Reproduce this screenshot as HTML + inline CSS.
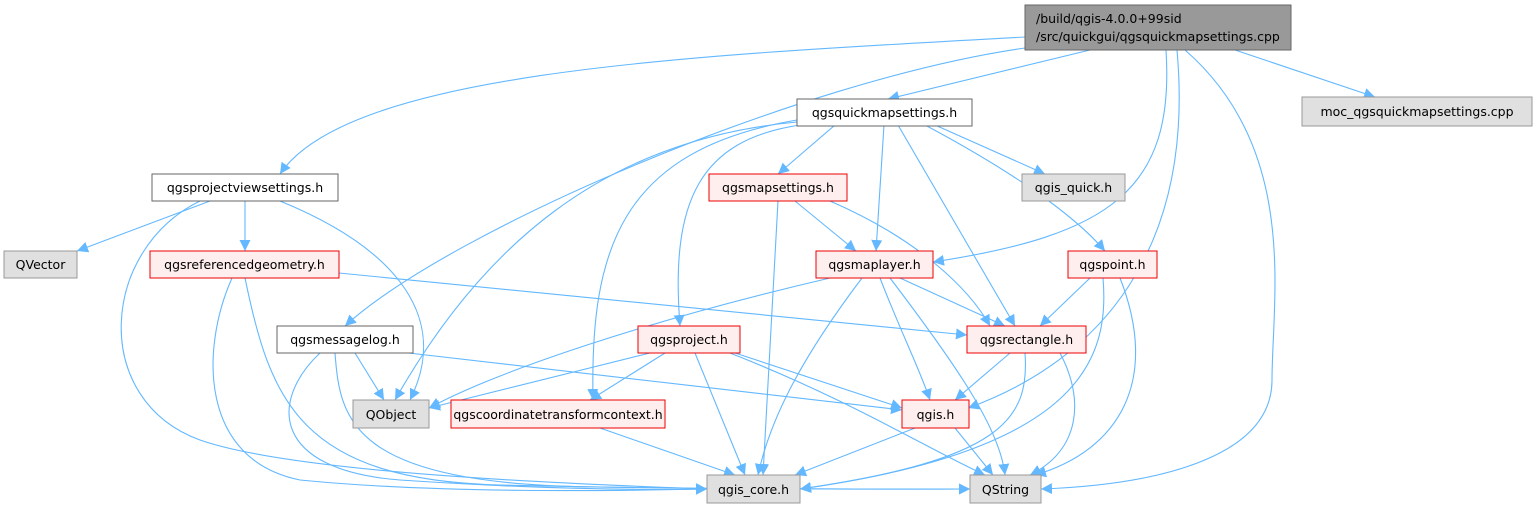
<!DOCTYPE html>
<html><head><meta charset="utf-8"><style>
html,body{margin:0;padding:0;background:#fff;}
svg{display:block;}
text{font-family:"DejaVu Sans","Liberation Sans",sans-serif;font-size:12.5px;fill:#000;}
.e{fill:none;stroke:#63b8ff;stroke-width:1.1;}
</style></head><body>
<svg width="1539" height="509" viewBox="0 0 1539 509" xmlns="http://www.w3.org/2000/svg">
<defs><marker id="a" viewBox="0 0 10 10" refX="10" refY="5" markerWidth="11" markerHeight="11" markerUnits="userSpaceOnUse" orient="auto"><path d="M0,0 L10,5 L0,10 z" fill="#63b8ff"/></marker></defs>
<g marker-end="url(#a)">
<path class="e" d="M1025,37 C700,55 350,70 280,174"/>
<path class="e" d="M1025,48 C800,80 450,230 345,326"/>
<path class="e" d="M1090,50 L888,99"/>
<path class="e" d="M1235,50 L1375,97"/>
<path class="e" d="M1166,50 C1175,190 1110,235 933,262"/>
<path class="e" d="M1177,50 C1195,250 1100,360 968,408"/>
<path class="e" d="M1185,50 C1300,150 1272,300 1272,380 C1272,460 1150,485 1041,489"/>
<path class="e" d="M835,125 L778,174"/>
<path class="e" d="M935,125 L1045,174"/>
<path class="e" d="M884,125 L876,251"/>
<path class="e" d="M925,125 C1000,165 1070,210 1105,251"/>
<path class="e" d="M898,125 L1015,326"/>
<path class="e" d="M800,125 C700,140 670,200 680,326"/>
<path class="e" d="M797,120 C620,150 590,250 593,400"/>
<path class="e" d="M797,122 C600,140 480,250 395,400"/>
<path class="e" d="M210,201 L77,251"/>
<path class="e" d="M245,201 L245,251"/>
<path class="e" d="M280,201 C400,250 450,320 410,400"/>
<path class="e" d="M200,201 C100,250 90,400 200,440 C300,475 600,485 707,489"/>
<path class="e" d="M795,201 L856,251"/>
<path class="e" d="M830,201 C920,240 970,290 990,326"/>
<path class="e" d="M778,201 L763,475"/>
<path class="e" d="M339,273 L967,335"/>
<path class="e" d="M232,278 C200,350 200,460 300,480 C450,495 650,490 707,489"/>
<path class="e" d="M245,278 C270,400 300,480 500,485 C700,490 900,489 970,489"/>
<path class="e" d="M830,278 C650,320 500,370 429,408"/>
<path class="e" d="M862,278 C800,360 770,420 758,475"/>
<path class="e" d="M900,278 L1005,326"/>
<path class="e" d="M880,278 C900,330 920,370 930,400"/>
<path class="e" d="M890,278 C960,370 1000,430 1005,475"/>
<path class="e" d="M1090,278 L1040,326"/>
<path class="e" d="M1103,278 C1110,360 1080,450 800,489"/>
<path class="e" d="M1120,278 C1160,380 1120,450 1035,475"/>
<path class="e" d="M355,353 L384,400"/>
<path class="e" d="M400,352 L902,410"/>
<path class="e" d="M320,353 C270,400 270,470 400,480 C550,490 650,490 707,489"/>
<path class="e" d="M335,353 C340,420 350,485 600,487 C800,490 920,489 970,489"/>
<path class="e" d="M650,353 L429,408"/>
<path class="e" d="M665,353 L590,400"/>
<path class="e" d="M735,353 L902,408"/>
<path class="e" d="M695,353 L745,475"/>
<path class="e" d="M730,353 C850,400 930,450 985,475"/>
<path class="e" d="M1010,353 L955,400"/>
<path class="e" d="M1025,353 C1030,420 1000,460 800,489"/>
<path class="e" d="M1060,353 C1085,400 1080,450 1030,475"/>
<path class="e" d="M600,428 L735,475"/>
<path class="e" d="M915,428 L795,475"/>
<path class="e" d="M955,428 L993,475"/>
</g>
<g stroke-width="1">
<rect x="1025" y="5" width="266" height="45" fill="#999" stroke="#666"/>
<rect x="1302" y="97" width="230" height="29" fill="#e0e0e0" stroke="#999"/>
<rect x="797" y="99" width="175" height="27" fill="#fff" stroke="#666"/>
<rect x="152" y="174" width="186" height="27" fill="#fff" stroke="#666"/>
<rect x="709" y="174" width="138" height="27" fill="#fee" stroke="#e00"/>
<rect x="1022" y="174" width="103" height="27" fill="#e0e0e0" stroke="#999"/>
<rect x="4" y="251" width="73" height="27" fill="#e0e0e0" stroke="#999"/>
<rect x="150" y="251" width="189" height="27" fill="#fee" stroke="#e00"/>
<rect x="816" y="251" width="117" height="27" fill="#fee" stroke="#e00"/>
<rect x="1068" y="251" width="89" height="27" fill="#fee" stroke="#e00"/>
<rect x="277" y="326" width="136" height="27" fill="#fff" stroke="#666"/>
<rect x="638" y="326" width="102" height="27" fill="#fee" stroke="#e00"/>
<rect x="967" y="326" width="119" height="27" fill="#fee" stroke="#e00"/>
<rect x="353" y="400" width="76" height="28" fill="#e0e0e0" stroke="#999"/>
<rect x="451" y="400" width="214" height="28" fill="#fee" stroke="#e00"/>
<rect x="902" y="400" width="67" height="28" fill="#fee" stroke="#e00"/>
<rect x="707" y="475" width="93" height="28" fill="#e0e0e0" stroke="#999"/>
<rect x="970" y="475" width="71" height="28" fill="#e0e0e0" stroke="#999"/>
</g>
<g>
<text x="1036" y="23">/build/qgis-4.0.0+99sid</text>
<text x="1036" y="41">/src/quickgui/qgsquickmapsettings.cpp</text>
<text x="1417" y="116" text-anchor="middle">moc_qgsquickmapsettings.cpp</text>
<text x="884.5" y="117" text-anchor="middle">qgsquickmapsettings.h</text>
<text x="245" y="192" text-anchor="middle">qgsprojectviewsettings.h</text>
<text x="778" y="192" text-anchor="middle">qgsmapsettings.h</text>
<text x="1073.5" y="192" text-anchor="middle">qgis_quick.h</text>
<text x="40.5" y="269" text-anchor="middle">QVector</text>
<text x="244.5" y="269" text-anchor="middle">qgsreferencedgeometry.h</text>
<text x="874.5" y="269" text-anchor="middle">qgsmaplayer.h</text>
<text x="1112.5" y="269" text-anchor="middle">qgspoint.h</text>
<text x="345" y="344" text-anchor="middle">qgsmessagelog.h</text>
<text x="689" y="344" text-anchor="middle">qgsproject.h</text>
<text x="1026.5" y="344" text-anchor="middle">qgsrectangle.h</text>
<text x="391" y="419" text-anchor="middle">QObject</text>
<text x="558" y="419" text-anchor="middle">qgscoordinatetransformcontext.h</text>
<text x="935.5" y="419" text-anchor="middle">qgis.h</text>
<text x="753.5" y="494" text-anchor="middle">qgis_core.h</text>
<text x="1005.5" y="494" text-anchor="middle">QString</text>
</g>
</svg>
</body></html>
